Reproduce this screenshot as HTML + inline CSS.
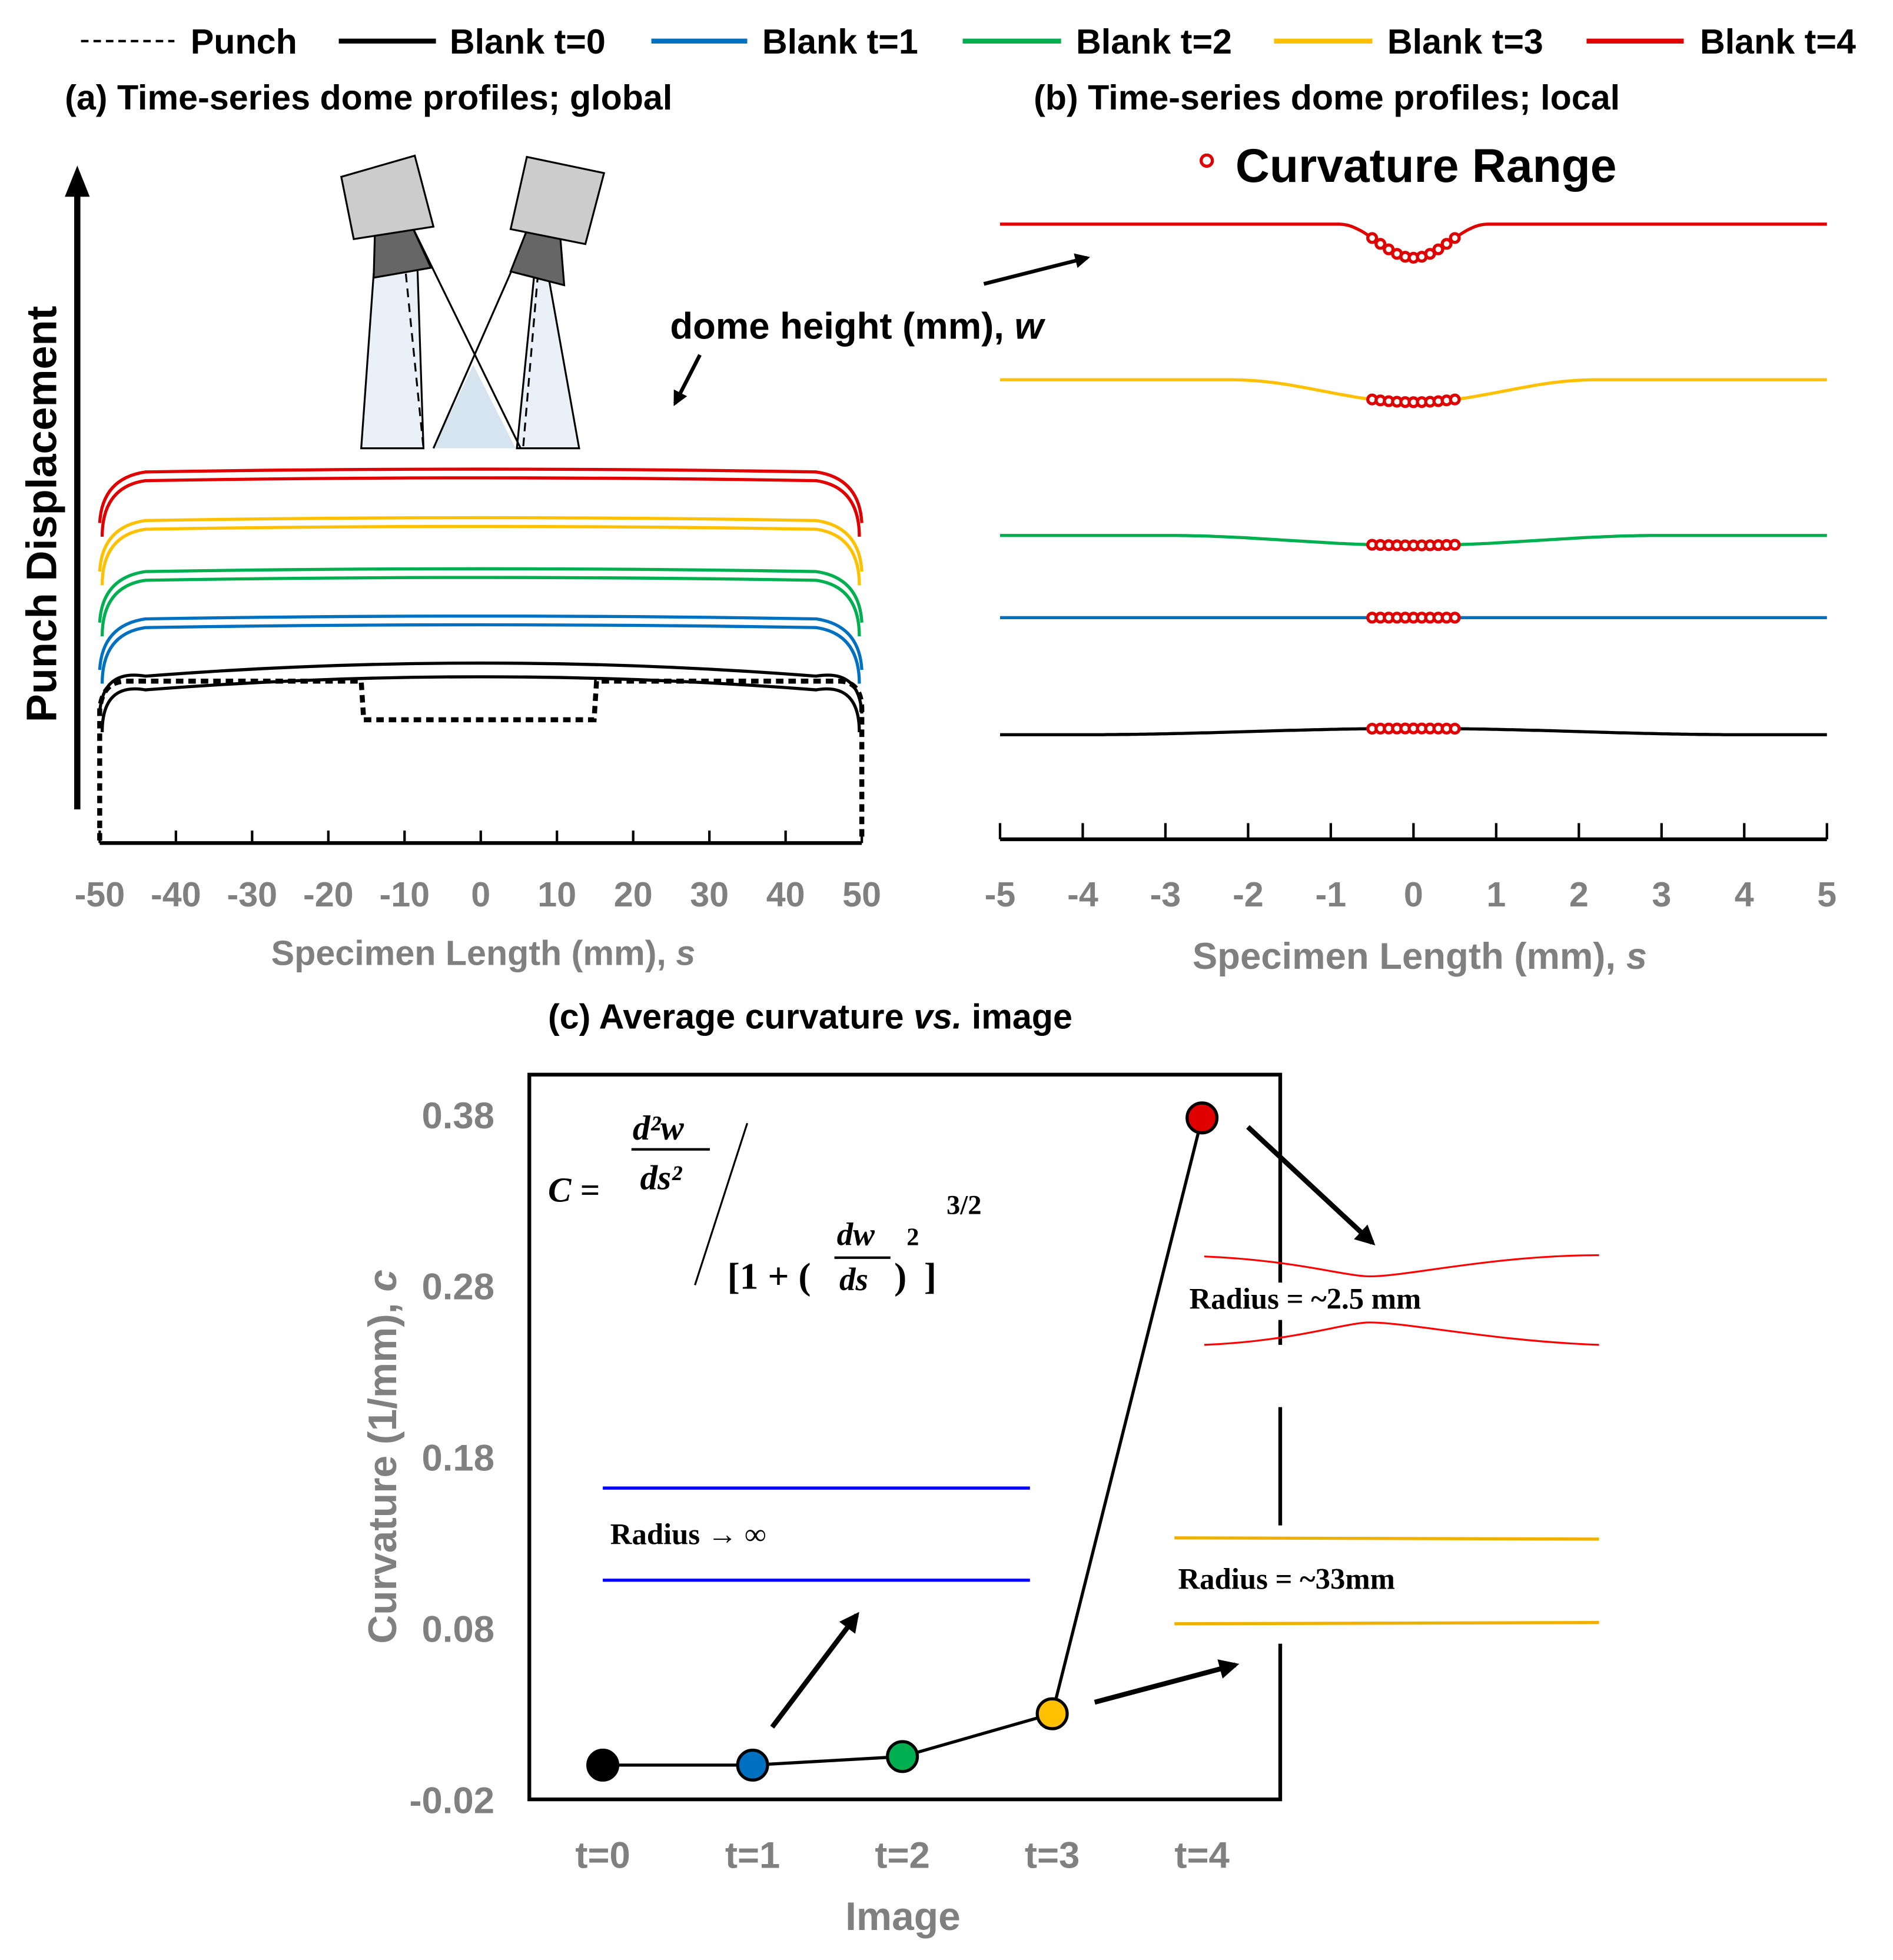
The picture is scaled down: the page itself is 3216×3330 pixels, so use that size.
<!DOCTYPE html>
<html><head><meta charset="utf-8"><style>
html,body{margin:0;padding:0;background:#fff}
svg{display:block}
text{font-family:"Liberation Sans",Arial,sans-serif;font-weight:bold}
.serif{font-family:"Liberation Serif",serif;font-weight:bold}
</style></head><body>
<svg id="fig" width="3216" height="3330" viewBox="0 0 1520 1574" xmlns="http://www.w3.org/2000/svg">
<defs>
<marker id="ah" viewBox="0 0 10 10" refX="8" refY="5" markerWidth="4" markerHeight="4" orient="auto"><path d="M0,0L10,5L0,10z" fill="#000"/></marker>
</defs>
<g>
<g><line x1="65" y1="33" x2="140" y2="33" stroke="#000" stroke-width="2" stroke-dasharray="6,4"/><text x="153" y="43" font-size="28">Punch</text></g>
<g><line x1="272" y1="33" x2="350" y2="33" stroke="#000" stroke-width="4"/><text x="361" y="43" font-size="28">Blank t=0</text></g>
<g><line x1="523" y1="33" x2="600" y2="33" stroke="#0070c0" stroke-width="4"/><text x="612" y="43" font-size="28">Blank t=1</text></g>
<g><line x1="773" y1="33" x2="852" y2="33" stroke="#00b050" stroke-width="4"/><text x="864" y="43" font-size="28">Blank t=2</text></g>
<g><line x1="1023" y1="33" x2="1102" y2="33" stroke="#ffc000" stroke-width="4"/><text x="1114" y="43" font-size="28">Blank t=3</text></g>
<g><line x1="1274" y1="33" x2="1352" y2="33" stroke="#e00000" stroke-width="4"/><text x="1365" y="43" font-size="28">Blank t=4</text></g>
</g>
<text x="52" y="88" font-size="28">(a) Time-series dome profiles; global</text>
<text x="830" y="88" font-size="28">(b) Time-series dome profiles; local</text>
<text x="440" y="826" font-size="28">(c) Average curvature <tspan font-style="italic">vs.</tspan> image</text>

<g>
<line x1="62" y1="650" x2="62" y2="150" stroke="#000" stroke-width="5"/>
<path d="M52,158L62,133L72,158z" fill="#000"/>
<text transform="translate(45,580) rotate(-90)" font-size="34">Punch Displacement</text>
<g>
<path d="M300,220L290,360L340,360L335,210z" fill="#eaf0f8" stroke="#000" stroke-width="1.5"/>
<path d="M440,220L465,360L415,360L430,210z" fill="#eaf0f8" stroke="#000" stroke-width="1.5"/>
<path d="M348,360L380,293L414,360z" fill="#d6e4f0"/>
<line x1="330" y1="180" x2="418" y2="360" stroke="#000" stroke-width="1.5"/>
<line x1="425" y1="185" x2="348" y2="360" stroke="#000" stroke-width="1.5"/>
<line x1="321" y1="172" x2="340" y2="360" stroke="#000" stroke-width="1.5" stroke-dasharray="7,5"/>
<line x1="436" y1="172" x2="420" y2="360" stroke="#000" stroke-width="1.5" stroke-dasharray="7,5"/>
<path d="M301,187L330,180L346,215L300,223z" fill="#666" stroke="#000" stroke-width="1.5"/>
<path d="M423,185L450,192L453,229L410,218z" fill="#666" stroke="#000" stroke-width="1.5"/>
<path d="M274,142L333,125L348,182L284,192z" fill="#ccc" stroke="#000" stroke-width="1.5"/>
<path d="M423,126L485,139L470,196L410,184z" fill="#ccc" stroke="#000" stroke-width="1.5"/>
</g>
<text x="538" y="272" font-size="30">dome height (mm), <tspan font-style="italic">w</tspan></text>
<line x1="562" y1="285" x2="542" y2="324" stroke="#000" stroke-width="3" marker-end="url(#ah)"/>
<line x1="790" y1="228" x2="873" y2="207" stroke="#000" stroke-width="3" marker-end="url(#ah)"/>
<g id="profA"></g>
<path d="M80,675L80,570Q82,548 100,547L290,547L292,578L477,578L479,547L675,547Q692,548 692,570L692,675" fill="none" stroke="#000" stroke-width="4" stroke-dasharray="6,4"/>
<line x1="80" y1="677" x2="692" y2="677" stroke="#000" stroke-width="3"/>
<g id="ticksA"></g>
<text x="388" y="775" font-size="28" fill="#808080" text-anchor="middle">Specimen Length (mm), <tspan font-style="italic">s</tspan></text>
</g>

<g>
<circle cx="969" cy="129" r="4.5" fill="#fff" stroke="#e00000" stroke-width="2.5"/>
<text x="992" y="146" font-size="38">Curvature Range</text>
<g id="profB"></g>
<line x1="803" y1="674" x2="1467" y2="674" stroke="#000" stroke-width="3"/>
<g id="ticksB"></g>
<text x="1140" y="778" font-size="30" fill="#808080" text-anchor="middle">Specimen Length (mm), <tspan font-style="italic">s</tspan></text>
</g>

<g>
<rect x="425" y="863" width="603" height="582" fill="none" stroke="#000" stroke-width="3"/>
<text transform="translate(318,1320) rotate(-90)" font-size="32" fill="#808080" font-weight="normal">Curvature (1/mm), <tspan font-style="italic">c</tspan></text>
<text x="725" y="1550" font-size="32" fill="#808080" text-anchor="middle" font-weight="normal">Image</text>
<g id="ticksC"></g>
<g class="serif">
<text x="440" y="965" font-size="28" font-style="italic" class="serif">C =</text>
<text x="508" y="915" font-size="28" font-style="italic" class="serif">d²w</text>
<line x1="507" y1="923" x2="570" y2="923" stroke="#000" stroke-width="2"/>
<text x="514" y="955" font-size="28" font-style="italic" class="serif">ds²</text>
<line x1="558" y1="1032" x2="600" y2="902" stroke="#000" stroke-width="1.5"/>
<text x="584" y="1035" font-size="30" class="serif">[1 + (</text>
<text x="672" y="1000" font-size="26" font-style="italic" class="serif">dw</text>
<line x1="670" y1="1010" x2="715" y2="1010" stroke="#000" stroke-width="2"/>
<text x="674" y="1036" font-size="26" font-style="italic" class="serif">ds</text>
<text x="718" y="1035" font-size="30" class="serif">)</text>
<text x="728" y="1000" font-size="20" class="serif">2</text>
<text x="742" y="1035" font-size="30" class="serif">]</text>
<text x="760" y="975" font-size="22" class="serif">3/2</text>
</g>
<g>
<line x1="484" y1="1195" x2="827" y2="1195" stroke="#0000ff" stroke-width="2.5"/>
<line x1="484" y1="1269" x2="827" y2="1269" stroke="#0000ff" stroke-width="2.5"/>
<text x="490" y="1240" font-size="24" class="serif">Radius → ∞</text>
</g>
<rect x="1022" y="1080" width="12" height="50" fill="#fff"/>
<rect x="1022" y="1225" width="12" height="95" fill="#fff"/>
<rect x="1022" y="1030" width="12" height="30" fill="#fff"/>
<g>
<path d="M967,1009C1040,1012 1080,1025 1100,1025C1130,1025 1200,1008 1284,1008" fill="none" stroke="#ff0000" stroke-width="1.5"/>
<path d="M967,1080C1040,1077 1080,1062 1100,1062C1130,1062 1200,1077 1284,1080" fill="none" stroke="#ff0000" stroke-width="1.5"/>
<text x="955" y="1051" font-size="24" class="serif">Radius = ~2.5 mm</text>
</g>
<g>
<path d="M943,1235L1284,1236" fill="none" stroke="#f0b000" stroke-width="2.5"/>
<path d="M943,1304L1284,1303" fill="none" stroke="#f0b000" stroke-width="2.5"/>
<text x="946" y="1276" font-size="24" class="serif">Radius = ~33mm</text>
</g>
<line x1="620" y1="1387" x2="688" y2="1297" stroke="#000" stroke-width="4" marker-end="url(#ah)"/>
<line x1="879" y1="1367" x2="992" y2="1337" stroke="#000" stroke-width="4" marker-end="url(#ah)"/>
<line x1="1002" y1="905" x2="1102" y2="998" stroke="#000" stroke-width="4" marker-end="url(#ah)"/>
<g id="seriesC"></g>
</g>
</svg>
<script>
const NS='http://www.w3.org/2000/svg';
function mk(tag,attrs,parent){const e=document.createElementNS(NS,tag);for(const k in attrs)e.setAttribute(k,attrs[k]);parent.appendChild(e);return e;}
const colors=['#000000','#0070c0','#00b050','#ffc000','#e00000'];
const ticksA=[-50,-40,-30,-20,-10,0,10,20,30,40,50];
const domeTopA=[529,494,456,415,376];
const xA=s=>80+(s+50)*(692-80)/100;
const gA=document.getElementById('profA');
domeTopA.forEach((y,i)=>{
  for(let k=0;k<2;k++){
    const yy=y+k*7+(i===0?k*4:0);
    const bow=i===0?14:3;
    const p=mk('path',{d:`M${xA(-50)+k*2},${yy+44+k*4}Q${xA(-50)+2},${yy+8} ${xA(-44)},${yy+bow}Q${xA(0)},${yy-bow/2} ${xA(44)},${yy+bow}Q${xA(50)-2},${yy+8} ${xA(50)-k*2},${yy+44+k*4}`,fill:'none',stroke:colors[i],'stroke-width':2.5},gA);
    
    
  }
});
const tA=document.getElementById('ticksA');
ticksA.forEach(v=>{
  mk('line',{x1:xA(v),y1:677,x2:xA(v),y2:667,stroke:'#000','stroke-width':2},tA);
  const t=mk('text',{x:xA(v),y:728,'font-size':28,fill:'#808080','text-anchor':'middle'},tA);
  t.textContent=v;
  
  
});
const ticksB=[-5,-4,-3,-2,-1,0,1,2,3,4,5];
const levelB=[590,496,430,305,180];
const dipB=[-5,0,8,18,27];
const widthB=[4,5,3,2.2,0.9];
const xB=s=>803+(s+5)*(1467-803)/10;
const gB=document.getElementById('profB');
levelB.forEach((y,i)=>{
  let d='';
  for(let s=-5;s<=5.001;s+=0.05){
    const w=widthB[i];
    const f=Math.abs(s)<w?(1+Math.cos(Math.PI*s/w))/2:0;
    const yy=y+dipB[i]*f;
    d+=(d?'L':'M')+xB(s).toFixed(1)+','+yy.toFixed(1);
  }
  const p=mk('path',{d:d,fill:'none',stroke:colors[i],'stroke-width':2.5},gB);
  
  
  for(let s=-0.5;s<=0.501;s+=0.1){
    const w=widthB[i];
    const f=Math.abs(s)<w?(1+Math.cos(Math.PI*s/w))/2:0;
    const c=mk('circle',{cx:xB(s),cy:y+dipB[i]*f,r:3.5,fill:'#fff',stroke:'#e00000','stroke-width':2.5},gB);
    
    
  }
});
const tB=document.getElementById('ticksB');
ticksB.forEach(v=>{
  mk('line',{x1:xB(v),y1:674,x2:xB(v),y2:661,stroke:'#000','stroke-width':2},tB);
  const t=mk('text',{x:xB(v),y:728,'font-size':28,fill:'#808080','text-anchor':'middle'},tB);
  t.textContent=v;
  
  
});
const categoriesC=['t=0','t=1','t=2','t=3','t=4'];
const curvatureC=[0.0,0.0,0.005,0.03,0.378];
const yTicksC=[-0.02,0.08,0.18,0.28,0.38];
const yC=v=>1445-(v+0.02)*550/0.4;
const xC=i=>484+i*120.3;
const tC=document.getElementById('ticksC');
yTicksC.forEach(v=>{
  const t=mk('text',{x:397,y:yC(v)+11,'font-size':30,fill:'#808080','text-anchor':'end','font-weight':'normal'},tC);
  t.textContent=v.toFixed(2);
  
  
});
categoriesC.forEach((c,i)=>{
  const t=mk('text',{x:xC(i),y:1500,'font-size':30,fill:'#808080','text-anchor':'middle','font-weight':'normal'},tC);
  t.textContent=c;
  
  
});
const sC=document.getElementById('seriesC');
const ln=mk('polyline',{points:curvatureC.map((v,i)=>xC(i)+','+yC(v)).join(' '),fill:'none',stroke:'#000','stroke-width':2.5},sC);


curvatureC.forEach((v,i)=>{
  const c=mk('circle',{cx:xC(i),cy:yC(v),r:12,fill:colors[i],stroke:'#000','stroke-width':2.5},sC);
  
  
});
</script>
</body></html>
